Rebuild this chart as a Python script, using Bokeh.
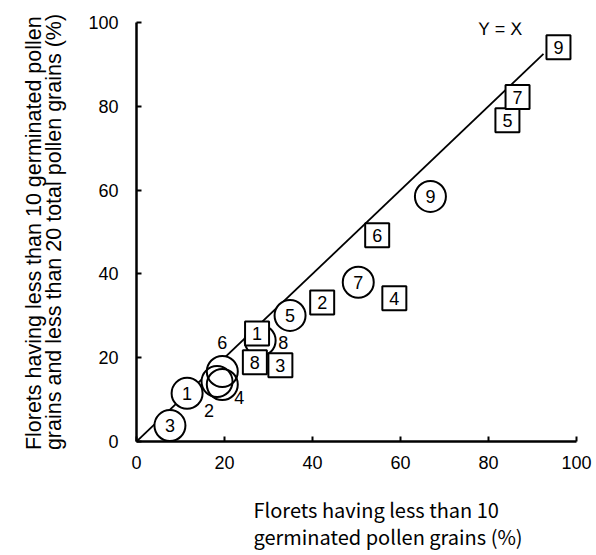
import math
from bokeh.plotting import figure
from bokeh.models import ColumnDataSource, Label, Range1d, FixedTicker, Title
from bokeh.core.properties import value
from bokeh.embed import file_html
from bokeh.resources import INLINE

# ---- data ----
circle_ids = ["1", "2", "3", "4", "5", "6", "7", "8", "9"]
circle_x = [11.5, 18.3, 7.6, 19.5, 34.9, 19.5, 50.4, 28.1, 66.8]
circle_y = [11.5, 14.3, 3.8, 13.6, 30.1, 16.7, 38.0, 24.1, 58.5]

square_ids = ["1", "2", "3", "4", "5", "6", "7", "8", "9"]
square_x = [27.4, 42.2, 32.7, 58.6, 84.3, 54.7, 86.6, 26.9, 95.9]
square_y = [25.8, 33.2, 18.2, 34.2, 76.7, 49.2, 82.2, 18.9, 94.1]

line_x = [0, 92.5]
line_y = [0, 92.5]

x_ticks = [0, 20, 40, 60, 80, 100]
y_ticks = [0, 20, 40, 60, 80, 100]

x_title = ["Florets having less than 10", "germinated pollen grains (%)"]
y_title = ["Florets having less than 10 germinated pollen",
           "grains and less than 20 total pollen grains (%)"]

# label offsets (screen px) for circle numbers drawn outside their circle
circle_dx = [0, -8, 0, 17, 0, 0, 0, 23, 0]
circle_dy = [0, 29, 0, 13, 0, -29, 0, 2, 0]

FONT = "Liberation Sans"

p = figure(frame_width=440, frame_height=419, output_backend="svg",
           toolbar_location=None,
           x_range=Range1d(0, 100), y_range=Range1d(0, 100),
           min_border_left=136, min_border_right=16, min_border_top=22,
           min_border_bottom=110)
p.outline_line_color = None
p.xgrid.visible = False
p.ygrid.visible = False
p.background_fill_color = "white"
p.border_fill_color = "white"

for ax, ticks in ((p.xaxis[0], x_ticks), (p.yaxis[0], y_ticks)):
    ax.ticker = FixedTicker(ticks=ticks)
    ax.major_tick_in = 5
    ax.major_tick_out = 0
    ax.minor_tick_line_color = None
    ax.axis_line_width = 2.5
    ax.major_tick_line_width = 2
    ax.axis_line_color = "black"
    ax.major_tick_line_color = "black"
    ax.major_label_text_font = FONT
    ax.major_label_text_font_size = "18px"
    ax.major_label_text_color = "black"
p.xaxis.major_label_standoff = 14
p.yaxis.major_label_standoff = 18

# Y = X line
p.line(line_x, line_y, line_color="black", line_width=1.8)

csrc = ColumnDataSource(dict(x=circle_x, y=circle_y, t=circle_ids,
                             dx=circle_dx, dy=circle_dy))
ssrc = ColumnDataSource(dict(x=square_x, y=square_y, t=square_ids))

p.scatter("x", "y", source=csrc, marker="circle", size=31,
          fill_color="white", line_color=None)
p.scatter("x", "y", source=csrc, marker="circle", size=31,
          fill_color=None, line_color="black", line_width=2)
p.scatter("x", "y", source=ssrc, marker="square", size=24,
          fill_color="white", line_color="black", line_width=2)

p.text("x", "y", text="t", source=csrc, x_offset="dx", y_offset="dy",
       text_align="center", text_baseline="middle",
       text_font=value(FONT), text_font_size="18px", text_color="black")
p.text("x", "y", text="t", source=ssrc,
       text_align="center", text_baseline="middle",
       text_font=value(FONT), text_font_size="18px", text_color="black")

p.add_layout(Label(x=82.7, y=98.5, text="Y = X", text_align="center",
                   text_baseline="middle", text_font=FONT,
                   text_font_size="18px", text_color="black"))

# axis titles (as side titles so they sit outside the frame)
p.add_layout(Title(text="\n".join(x_title), align="left", offset=117,
                   standoff=42, text_font="Noto Sans CJK JP",
                   text_font_size="20px", text_line_height=0.95,
                   text_font_style="normal", text_color="black"), "below")
p.add_layout(Title(text="\n".join(y_title), align="center", offset=0,
                   standoff=38, text_font=FONT, text_font_size="21.5px",
                   text_line_height=0.85,
                   text_font_style="normal", text_color="black"), "left")

open("out.html", "w").write(file_html(p, INLINE))
